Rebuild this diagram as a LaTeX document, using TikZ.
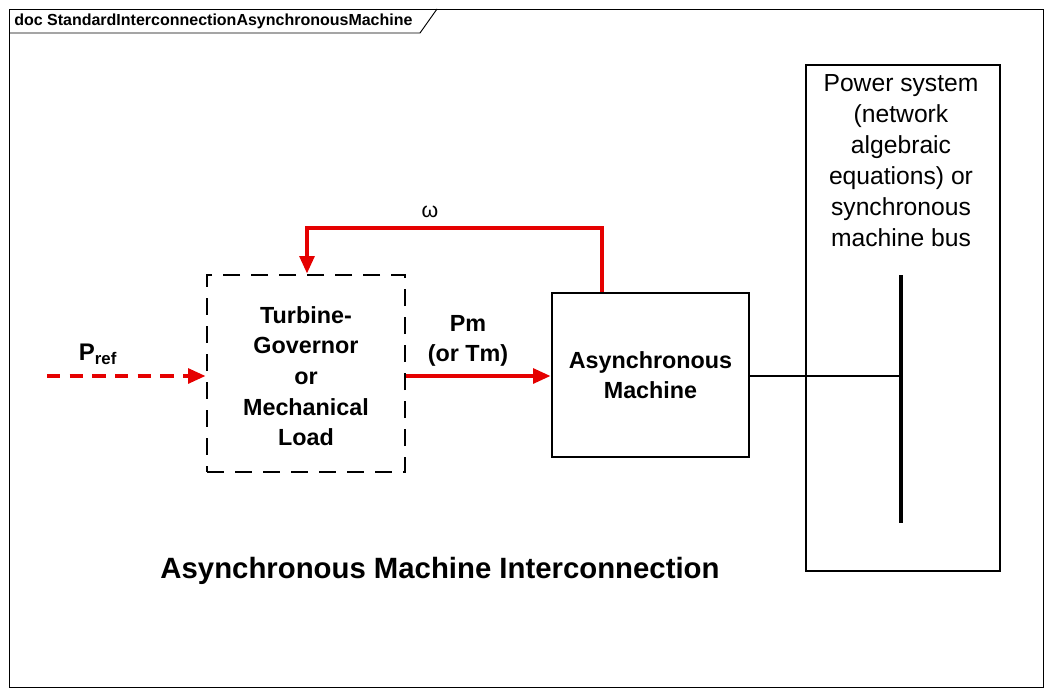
\documentclass[tikz,border=0pt]{standalone}
\usepackage{fontspec}
\setmainfont{Liberation Sans}
\usetikzlibrary{arrows.meta}
\begin{document}
\begin{tikzpicture}[x=0.75pt,y=-0.75pt,
  blk/.style={draw,line width=2.2pt},
  redarr/.style={draw=red!90!black,line width=2.6pt,-{Triangle[length=13pt,width=11pt]}},
  lbl/.style={font=\fontsize{17.5}{23}\selectfont\bfseries,align=center}]
\useasboundingbox (0,0) rectangle (1052,696);
\fill[white] (0,0) rectangle (1052,696);
\draw[line width=0.7pt] (9,9) rectangle (1043,687);
\draw[line width=0.7pt] (9,33) -- (420,33) -- (437,9);
\node[anchor=west,font=\fontsize{12}{14}\selectfont\bfseries,inner sep=0] (tab) at (14,21) {doc StandardInterconnectionAsynchronousMachine};
\node[blk,dashed,dash pattern=on 13pt off 8pt,minimum width=148.5pt,minimum height=147.75pt] (tg) at (306,373.5) {};
\node[lbl] (tgt) at (306,376) {Turbine-\\Governor\\or\\Mechanical\\Load};
\node[blk,minimum width=147.75pt,minimum height=123pt] (am) at (650.5,375) {};
\node[lbl] (amt) at (650.5,375) {Asynchronous\\Machine};
\node[draw,line width=2.2pt,minimum width=145.5pt,minimum height=379.5pt] (ps) at (903,318) {};
\node[font=\fontsize{18.5}{23.25}\selectfont,align=center,anchor=north] (pst) at (901,70) {Power system\\(network\\algebraic\\equations) or\\synchronous\\machine bus};
\coordinate (bt) at (901,275); \coordinate (bb) at (901,523);
\draw[line width=3.5pt] (bt) -- (bb);
\coordinate (bm) at (901,376);
\draw[line width=1.3pt] (am.east |- bm) -- (bm);
\coordinate (fb1) at (602,228); \coordinate (fb2) at (307,228);
\draw[redarr] (am.north -| fb1) -- (fb1) -- (fb2) -- (tg.north -| fb2);
\node[font=\fontsize{16}{18}\selectfont] (w) at (430,212) {ω};
\draw[redarr] (tg.east |- bm) -- (am.west |- bm);
\node[lbl] (pm) at (468,341) {Pm\\(or Tm)};
\coordinate (pr) at (47,376);
\draw[redarr,dashed,dash pattern=on 10pt off 7pt] (pr) -- (tg.west |- bm);
\node[font=\fontsize{18}{20}\selectfont\bfseries] (pref) at (98,354) {P\textsubscript{ref}};
\node[font=\fontsize{22}{26}\selectfont\bfseries] (cap) at (440,571) {Asynchronous Machine Interconnection};
\end{tikzpicture}
\end{document}
